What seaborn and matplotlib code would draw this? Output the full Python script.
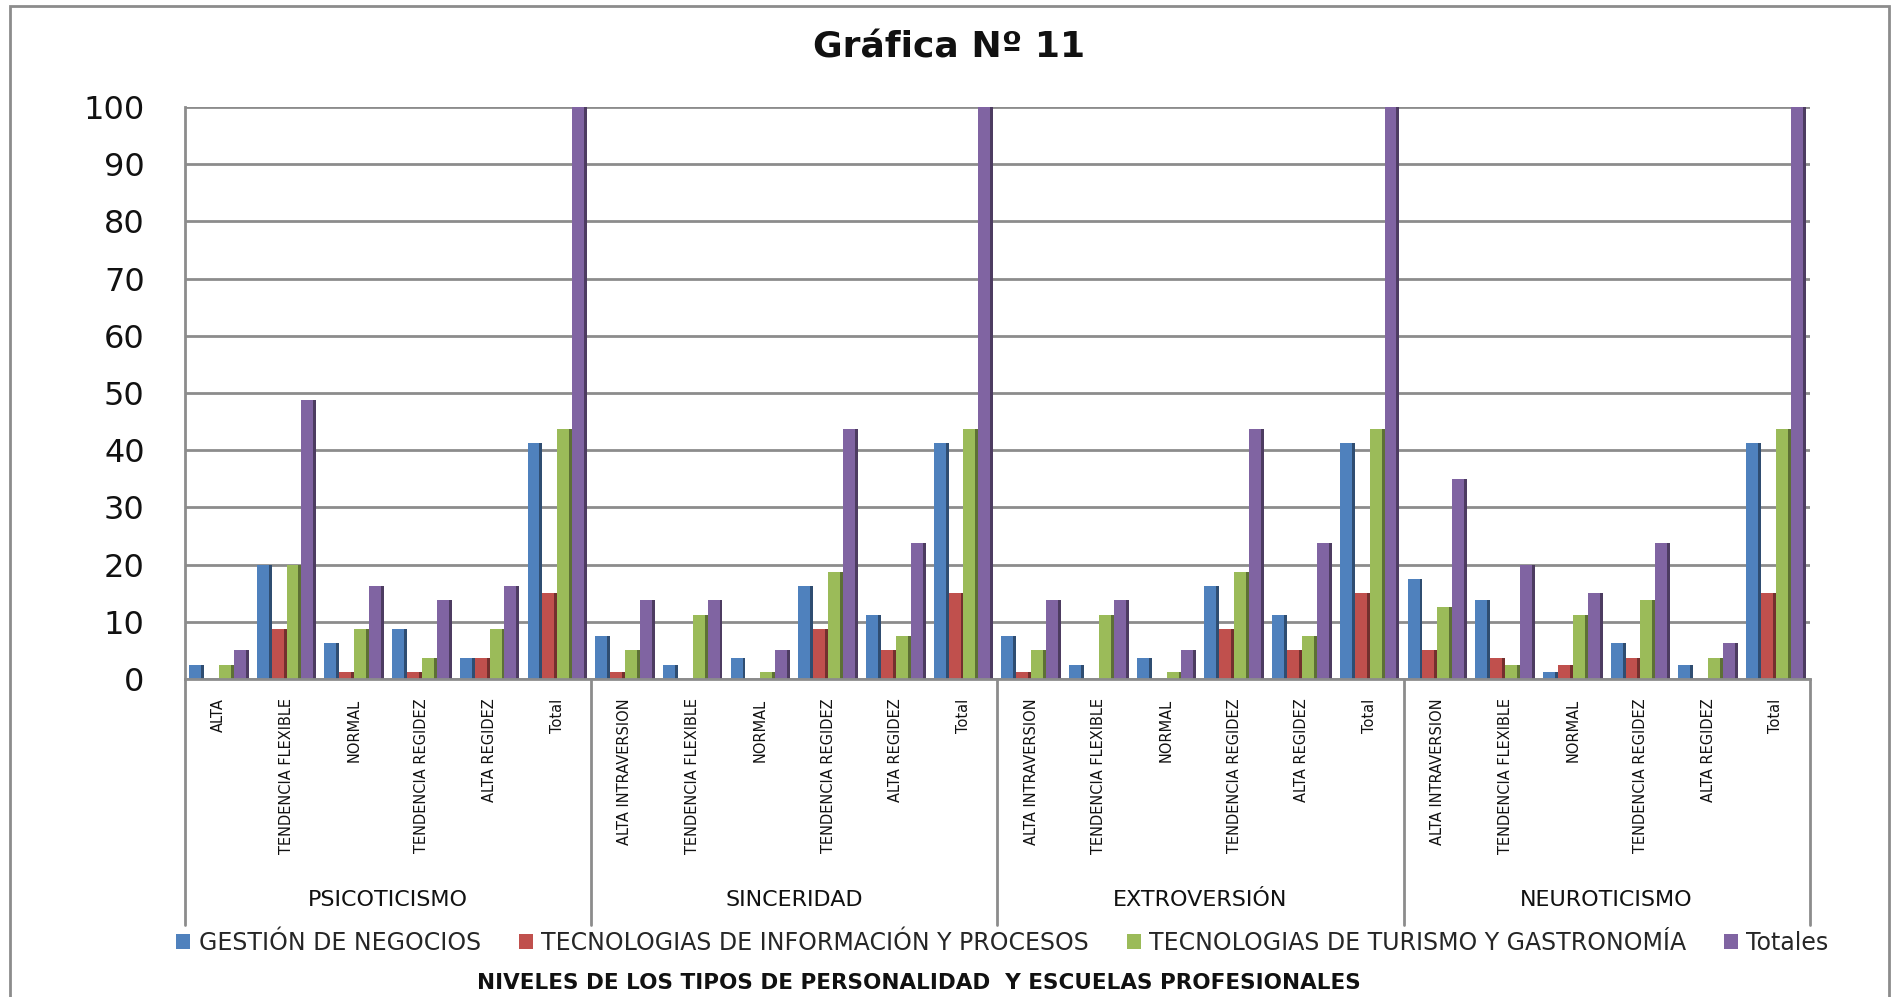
# Gráfica Nº 11 - niveles de los tipos de personalidad por escuela profesional
import pandas as pd
import matplotlib
matplotlib.use("Agg")
import matplotlib.pyplot as plt
from matplotlib.patches import Rectangle
from matplotlib.colors import to_rgb
import seaborn as sns

# Datos (porcentajes)
grupos = ["PSICOTICISMO", "SINCERIDAD", "EXTROVERSIÓN", "NEUROTICISMO"]
niveles_psico = ["ALTA", "TENDENCIA FLEXIBLE", "NORMAL", "TENDENCIA REGIDEZ", "ALTA REGIDEZ", "Total"]
niveles_otros = ["ALTA INTRAVERSION", "TENDENCIA FLEXIBLE", "NORMAL", "TENDENCIA REGIDEZ", "ALTA REGIDEZ", "Total"]
series = ["GESTIÓN DE NEGOCIOS", "TECNOLOGIAS DE INFORMACIÓN Y PROCESOS",
          "TECNOLOGIAS DE TURISMO Y GASTRONOMÍA", "Totales"]

gestion = [2.5, 20, 6.25, 8.75, 3.75, 41.25,
           7.5, 2.5, 3.75, 16.25, 11.25, 41.25,
           7.5, 2.5, 3.75, 16.25, 11.25, 41.25,
           17.5, 13.75, 1.25, 6.25, 2.5, 41.25]
informacion = [0, 8.75, 1.25, 1.25, 3.75, 15,
               1.25, 0, 0, 8.75, 5, 15,
               1.25, 0, 0, 8.75, 5, 15,
               5, 3.75, 2.5, 3.75, 0, 15]
turismo = [2.5, 20, 8.75, 3.75, 8.75, 43.75,
           5, 11.25, 1.25, 18.75, 7.5, 43.75,
           5, 11.25, 1.25, 18.75, 7.5, 43.75,
           12.5, 2.5, 11.25, 13.75, 3.75, 43.75]
totales = [5, 48.75, 16.25, 13.75, 16.25, 100,
           13.75, 13.75, 5, 43.75, 23.75, 100,
           13.75, 13.75, 5, 43.75, 23.75, 100,
           35, 20, 15, 23.75, 6.25, 100]

colores = ["#4F81BD", "#C0504D", "#9BBB59", "#8064A2"]

# Construccion del dataframe en formato largo
niveles = [niveles_psico] + [niveles_otros] * 3
claves, etiquetas = [], []
for g, nv in zip(grupos, niveles):
    for n in nv:
        claves.append(g + "|" + n)
        etiquetas.append(n)

filas = []
for s, vals in zip(series, [gestion, informacion, turismo, totales]):
    for k, v in zip(claves, vals):
        filas.append({"clave": k, "serie": s, "valor": v})
df = pd.DataFrame(filas)

sns.set_style("white")
plt.rcParams["font.family"] = ["DejaVu Sans"]

fig = plt.figure(figsize=(18.95, 9.97), dpi=100)
ax = fig.add_axes([0.0976, 0.319, 0.8574, 0.5737])

sns.barplot(data=df, x="clave", y="valor", hue="serie", order=claves,
            hue_order=series, palette=colores, width=0.88, saturation=1,
            linewidth=0, ax=ax)

# Lado oscuro de cada barra (efecto 3D)
for p in list(ax.patches):
    h = p.get_height()
    if h <= 0:
        continue
    c = to_rgb(p.get_facecolor())
    oscuro = tuple(x * 0.6 for x in c)
    w = p.get_width()
    ax.add_patch(Rectangle((p.get_x() + w * 0.8, 0), w * 0.2, h,
                           facecolor=oscuro, linewidth=0, zorder=p.get_zorder()))

handles, labels = ax.get_legend_handles_labels()
ax.get_legend().remove()

ax.set_ylim(0, 100)
ax.set_xlim(-0.5, len(claves) - 0.5)
ax.set_yticks(range(0, 101, 10))
ax.yaxis.grid(True, color="#8c8c8c", linewidth=2)
ax.set_axisbelow(True)
ax.tick_params(axis="y", labelsize=23, length=9, width=1.5, color="#8c8c8c",
               pad=20, labelcolor="#111111")
ax.set_xticks(range(len(claves)))
ax.set_xticklabels(etiquetas, rotation=90, va="top", ha="center",
                   fontsize=10.5, color="#111111")
ax.tick_params(axis="x", length=0, pad=14)
ax.set_xlabel("")
ax.set_ylabel("")
for sp in ["top", "right"]:
    ax.spines[sp].set_visible(False)
for sp in ["left", "bottom"]:
    ax.spines[sp].set_color("#8c8c8c")
    ax.spines[sp].set_linewidth(2)

# Separadores y nombres de grupo
tr = ax.get_xaxis_transform()
for i in range(len(grupos) + 1):
    xs = i * 6 - 0.5
    ax.plot([xs, xs], [0, -0.43], transform=tr, color="#8c8c8c",
            linewidth=2, clip_on=False)
for i, g in enumerate(grupos):
    ax.text(i * 6 + 2.5, -0.386, g, transform=tr, ha="center", va="center",
            fontsize=16, color="#111111")

fig.legend(handles, labels, loc="center", bbox_to_anchor=(0.529, 0.054),
           ncol=4, frameon=False, fontsize=17, handlelength=0.6,
           handleheight=0.6, handletextpad=0.35, columnspacing=1.6)

fig.text(0.501, 0.952, "Gráfica Nº 11", ha="center", va="center",
         fontsize=26, fontweight="bold", color="#111111")
fig.text(0.4847, 0.0145, "NIVELES DE LOS TIPOS DE PERSONALIDAD  Y ESCUELAS PROFESIONALES",
         ha="center", va="center", fontsize=15.5, fontweight="bold", color="#111111")

# Borde exterior del grafico
fig.add_artist(Rectangle((0.0055, -0.01), 0.9915, 1.004, transform=fig.transFigure,
                         fill=False, edgecolor="#8c8c8c", linewidth=2))

fig.savefig("out.png", dpi=100)
